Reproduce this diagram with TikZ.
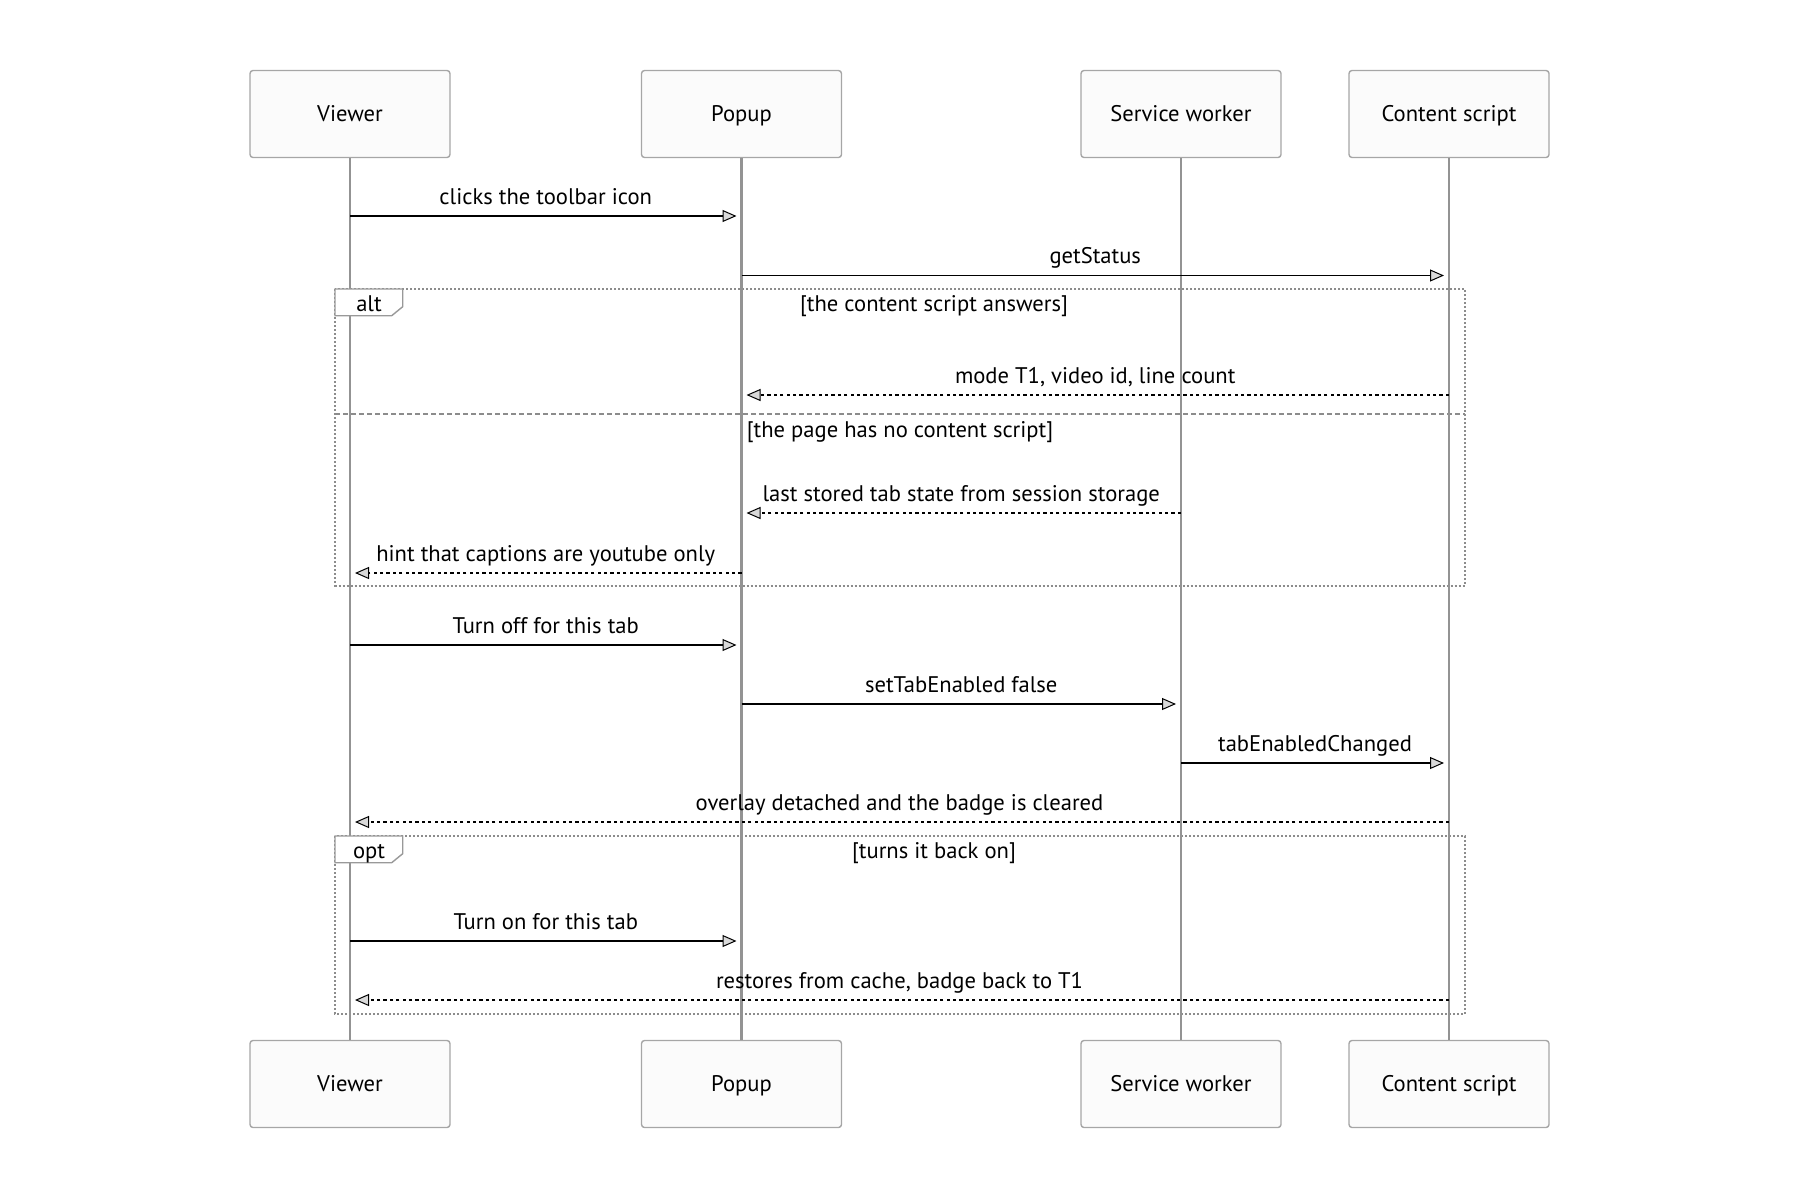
\documentclass[tikz,border=0pt]{standalone}
\usepackage{fontspec}
\setmainfont{PT Sans}
\usetikzlibrary{arrows.meta}
\begin{document}
\begin{tikzpicture}[x=0.5pt,y=-0.5pt,
        actor/.style={draw=gray!70,fill=gray!3,rounded corners=1.5pt,line width=0.7pt,
            minimum width=100pt,minimum height=43.5pt,text height=0.85em,text depth=0.15em},
        lifeline/.style={draw=gray!85,line width=1.2pt},
        msg/.style={line width=0.9pt,-{Triangle[length=7pt,width=6pt,fill=gray!30,line width=0.5pt]},shorten >=2.5pt},
        reply/.style={msg,dash pattern=on 1.6pt off 1.6pt},
        txt/.style={anchor=base,yshift=6pt,inner sep=0pt},
        frame/.style={draw=gray!90,line width=1pt,dash pattern=on 1pt off 1pt},
        divider/.style={draw=gray!90,line width=1pt,dash pattern=on 2.4pt off 1.6pt},
        tag/.style={draw=gray!80,fill=white,line width=0.7pt},
        guard/.style={anchor=base,inner sep=0pt}]
    \useasboundingbox (0,0) rectangle (1800,1200);
    \fontsize{11.3}{13}\selectfont
    % frames behind everything
    \draw[frame] (335,289) rectangle (1465,585.5);
    \draw[divider] (335,414) -- (1465,414);
    \draw[frame] (335,836) rectangle (1465,1014);
    % actors
    \node[actor] (viewer) at (350,114) {Viewer};
    \node[actor] (popup) at (741.5,114) {Popup};
    \node[actor] (worker) at (1181,114) {Service worker};
    \node[actor] (content) at (1449,114) {Content script};
    \node[actor] (viewer end) at (350,1084) {Viewer};
    \node[actor] (popup end) at (741.5,1084) {Popup};
    \node[actor] (worker end) at (1181,1084) {Service worker};
    \node[actor] (content end) at (1449,1084) {Content script};
    \draw[lifeline] (viewer) -- (viewer end);
    \draw[lifeline] (popup) -- (popup end);
    \draw[lifeline] (worker) -- (worker end);
    \draw[lifeline] (content) -- (content end);
    % frame tags
    \draw[tag] (335,289) -- (402.7,289) -- (402.7,306.7) -- (391.7,315.7) -- (335,315.7) -- cycle;
    \node[guard] (alt tag) at (369,311.5) {alt};
    \node[guard] (alt guard) at (934,311.5) {[the content script answers]};
    \node[guard] (else guard) at (900,437.5) {[the page has no content script]};
    \draw[tag] (335,836) -- (402.7,836) -- (402.7,853.7) -- (391.7,862.7) -- (335,862.7) -- cycle;
    \node[guard] (opt tag) at (369,858.5) {opt};
    \node[guard] (opt guard) at (934,858.5) {[turns it back on]};
    % messages
    \draw[msg] (viewer |- 0,216) -- node[txt] (m1) {clicks the toolbar icon} (popup |- 0,216);
    \draw[msg] (popup |- 0,275.5) -- node[txt] (m2) {getStatus} (content |- 0,275.5);
    \draw[reply] (content |- 0,395) -- node[txt] (m3) {mode T1, video id, line count} (popup |- 0,395);
    \draw[reply] (worker |- 0,513) -- node[txt] (m4) {last stored tab state from session storage} (popup |- 0,513);
    \draw[reply] (popup |- 0,573) -- node[txt] (m5) {hint that captions are youtube only} (viewer |- 0,573);
    \draw[msg] (viewer |- 0,645) -- node[txt] (m6) {Turn off for this tab} (popup |- 0,645);
    \draw[msg] (popup |- 0,704) -- node[txt] (m7) {setTabEnabled false} (worker |- 0,704);
    \draw[msg] (worker |- 0,763) -- node[txt] (m8) {tabEnabledChanged} (content |- 0,763);
    \draw[reply] (content |- 0,822) -- node[txt] (m9) {overlay detached and the badge is cleared} (viewer |- 0,822);
    \draw[msg] (viewer |- 0,941) -- node[txt] (m10) {Turn on for this tab} (popup |- 0,941);
    \draw[reply] (content |- 0,1000) -- node[txt] (m11) {restores from cache, badge back to T1} (viewer |- 0,1000);
\end{tikzpicture}
\end{document}
